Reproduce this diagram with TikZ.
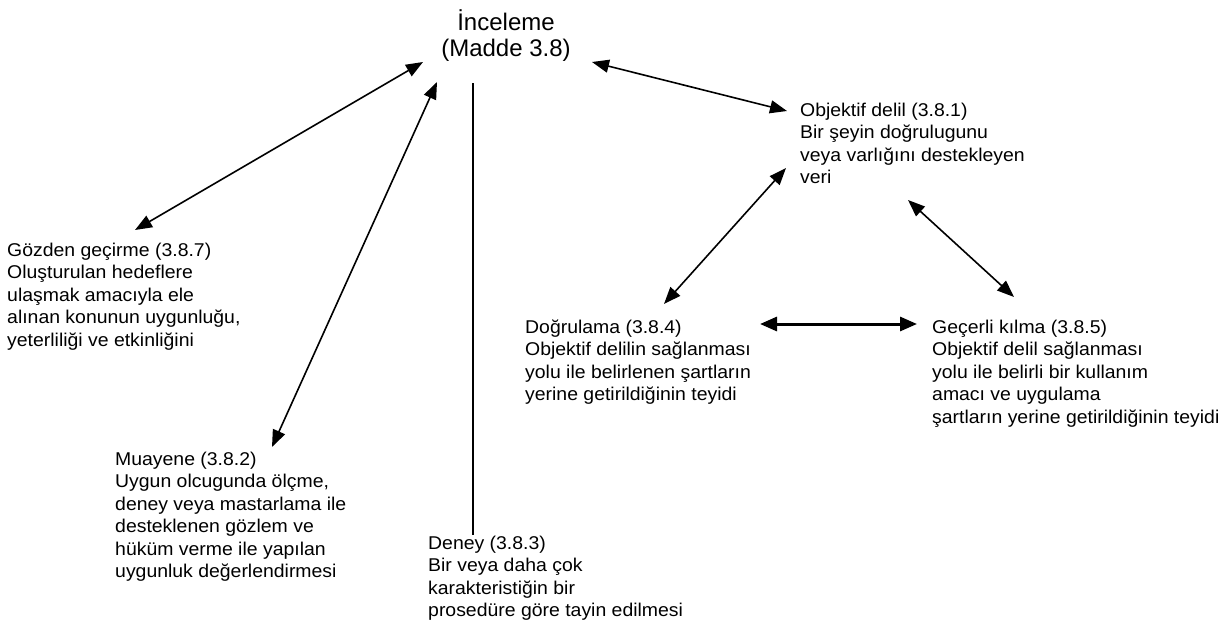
\documentclass[tikz,border=0pt]{standalone}
\usepackage{fontspec}
\setmainfont{Liberation Sans}
\newfontfamily\bodyfont[FakeStretch=1.05]{Liberation Sans}
\usetikzlibrary{arrows.meta}

\begin{document}
\begin{tikzpicture}[x=1pt,y=-1pt,
  % multi-line nodes: the base anchor sits on the baseline of the last line
  txt/.style={anchor=base west, align=left, inner sep=0pt,
    font=\bodyfont\fontsize{18.5}{22.5}\selectfont},
  ttl/.style={anchor=base, align=center, inner sep=0pt,
    font=\fontsize{24}{25}\selectfont},
  link/.style={line width=1.6pt, {Triangle[length=17pt,width=13pt]}-{Triangle[length=17pt,width=13pt]}},
  strong/.style={line width=3pt, {Triangle[length=17pt,width=14pt]}-{Triangle[length=17pt,width=14pt]}},
  plain/.style={line width=1.6pt}]
\useasboundingbox[fill=white] (0,0) rectangle (1227,621);

% central term
\node[ttl] (insp) at (506,56) {İnceleme\\(Madde 3.8)};

% related terms
\node[txt] (review) at (7,346) {Gözden geçirme (3.8.7)\\Oluşturulan hedeflere\\ulaşmak amacıyla ele\\alınan konunun uygunluğu,\\yeterliliği ve etkinliğini};
\node[txt] (insp2) at (115,577.5) {Muayene (3.8.2)\\Uygun olcugunda ölçme,\\deney veya mastarlama ile\\desteklenen gözlem ve\\hüküm verme ile yapılan\\uygunluk değerlendirmesi};
\node[txt] (test) at (428,616.5) {Deney (3.8.3)\\Bir veya daha çok\\karakteristiğin bir\\prosedüre göre tayin edilmesi};
\node[txt] (evid) at (800,183.5) {Objektif delil (3.8.1)\\Bir şeyin doğrulugunu\\veya varlığını destekleyen\\veri};
\node[txt] (verif) at (525,400.5) {Doğrulama (3.8.4)\\Objektif delilin sağlanması\\yolu ile belirlenen şartların\\yerine getirildiğinin teyidi};
\node[txt] (valid) at (932,423) {Geçerli kılma (3.8.5)\\Objektif delil sağlanması\\yolu ile belirli bir kullanım\\amacı ve uygulama\\şartların yerine getirildiğinin teyidi};

% connector end points
\coordinate (insp-rv) at (423,62);
\coordinate (rv-in)   at (135,230);
\coordinate (insp-mu) at (437,82);
\coordinate (mu-in)   at (272,447);
\coordinate (insp-te) at (473,83);
\coordinate (te-in)   at (473,535);
\coordinate (insp-ev) at (592,62);
\coordinate (ev-in)   at (787,111);
\coordinate (ev-vf)   at (786,168);
\coordinate (vf-ev)   at (664,304);
\coordinate (ev-vd)   at (908,200);
\coordinate (vd-ev)   at (1014,297);
\coordinate (vf-vd)   at (760,324);
\coordinate (vd-vf)   at (917,324);

% connectors
\draw[link] (insp-rv) -- (rv-in);
\draw[link] (insp-mu) -- (mu-in);
\draw[plain] (insp-te) -- (te-in);
\draw[link] (insp-ev) -- (ev-in);
\draw[link] (ev-vf) -- (vf-ev);
\draw[link] (ev-vd) -- (vd-ev);
\draw[strong] (vf-vd) -- (vd-vf);
\end{tikzpicture}
\end{document}
